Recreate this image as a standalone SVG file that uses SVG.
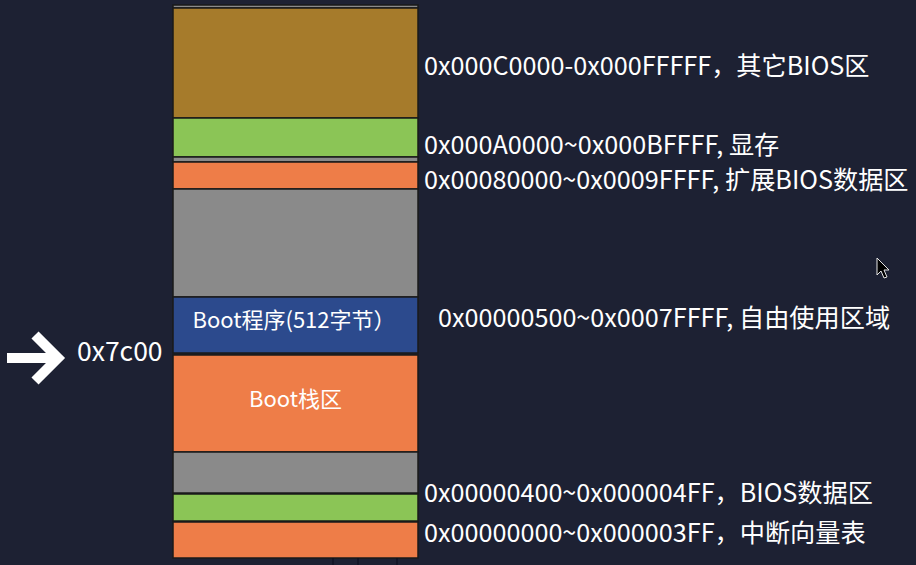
<svg xmlns="http://www.w3.org/2000/svg" width="916" height="565" viewBox="0 0 916 565">
<style>
.blk{stroke:#1a1a1a;stroke-width:1.5}
.brown{fill:#a67b2b}
.green{fill:#8bc556}
.orange{fill:#ee7d48}
.gray{fill:#8a8a8a}
.blue{fill:#2c4a8d}
.lbl{font-family:"Noto Sans CJK SC","Noto Sans",sans-serif;font-size:25.2px;fill:#ffffff}
.in{font-family:"Noto Sans CJK SC","Noto Sans",sans-serif;font-size:22px;fill:#ffffff;text-anchor:middle}
</style>
<rect x="0" y="0" width="916" height="565" fill="#1d2133"/>
<g id="memory-column">
<g id="top-strip"><rect class="blk gray" x="173" y="5" width="245" height="3"/></g>
<g id="bios-other"><rect class="blk brown" x="173" y="8" width="245" height="110"/></g>
<g id="vram"><rect class="blk green" x="173" y="118" width="245" height="39"/></g>
<g id="gap1"><rect class="blk gray" x="173" y="157" width="245" height="5"/></g>
<g id="ext-bios"><rect class="blk orange" x="173" y="162" width="245" height="27"/></g>
<g id="free"><rect class="blk gray" x="173" y="189" width="245" height="108"/></g>
<g id="boot"><rect class="blk blue" x="173" y="297" width="245" height="56"/><text class="in" x="294" y="328">Boot程序(512字节）</text></g>
<g id="boot-stack"><rect class="blk orange" x="173" y="355" width="245" height="97"/><text class="in" x="295.5" y="407">Boot栈区</text></g>
<g id="gap2"><rect class="blk gray" x="173" y="452" width="245" height="41"/></g>
<g id="bios-data"><rect class="blk green" x="173" y="494" width="245" height="27"/></g>
<g id="ivt"><rect class="blk orange" x="173" y="522" width="245" height="36"/></g>
<g id="below" stroke="#0e1020" stroke-width="1.2"><line x1="333" y1="558" x2="333" y2="565"/><line x1="358" y1="558" x2="358" y2="565"/><line x1="397" y1="558" x2="397" y2="565"/></g>
</g>
<g id="labels">
<text class="lbl" x="424" y="75">0x000C0000-0x000FFFFF，其它BIOS区</text>
<text class="lbl" x="424" y="154">0x000A0000~0x000BFFFF, 显存</text>
<text class="lbl" x="424" y="189">0x00080000~0x0009FFFF, 扩展BIOS数据区</text>
<text class="lbl" x="438" y="327">0x00000500~0x0007FFFF, 自由使用区域</text>
<text class="lbl" x="424" y="502">0x00000400~0x000004FF，BIOS数据区</text>
<text class="lbl" x="424" y="542">0x00000000~0x000003FF，中断向量表</text>
</g>
<g id="pointer">
<g id="connectors"><line x1="7" y1="358" x2="56" y2="358" stroke="#ffffff" stroke-width="10"/><polyline points="35,335 58,358 35,381" fill="none" stroke="#ffffff" stroke-width="10" stroke-linejoin="miter"/></g>
<text x="77" y="361" font-family="Noto Sans CJK SC,Noto Sans,sans-serif" font-size="26.5" fill="#ffffff">0x7c00</text>
</g>
<g id="cursor"><polygon points="877,258 877,275 881,271 884,278 887,277 884,270 889,270" fill="#000000" stroke="#e6e6e6" stroke-width="1"/></g>
</svg>
